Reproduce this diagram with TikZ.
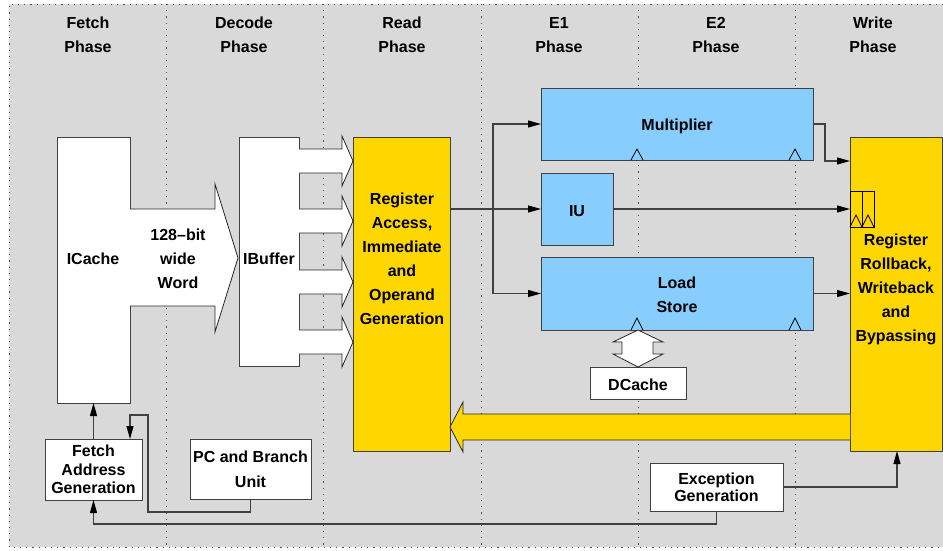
\documentclass[tikz,border=0pt]{standalone}
\usepackage{fontspec}
\setmainfont{Liberation Sans}
\usetikzlibrary{arrows.meta}
\definecolor{bg}{HTML}{D9D9D9}
\definecolor{blu}{HTML}{87CEFF}
\definecolor{yel}{HTML}{FFD700}
\definecolor{ln}{HTML}{404040}
\begin{document}
\begin{tikzpicture}[x=1pt,y=-1pt,
  txt/.style={font=\fontsize{16}{24}\bfseries\selectfont, align=center, inner sep=0pt},
  box/.style={draw=ln, line width=0.9pt, inner sep=0pt, outer sep=0pt, align=center, font=\fontsize{16}{24}\bfseries\selectfont},
  wbox/.style={box, fill=white},
  bbox/.style={box, fill=blu},
  ybox/.style={box, fill=yel},
  conn/.style={draw=ln, line width=1.1pt, -{Triangle[length=13pt,width=7pt,black]}},
  plain/.style={draw=ln, line width=1.1pt},
  divider/.style={draw=black!70, line width=0.9pt, dash pattern=on 1.2pt off 5pt},
  blk/.style={draw=black!85, line width=0.8pt, line join=miter},
  clk/.style={draw=black, line width=0.8pt}
]
\useasboundingbox (0,0) rectangle (943,550);
% background
\fill[bg] (9,4) rectangle (943,547);
\draw[divider] (943,4) -- (9,4) -- (9,547) -- (943,547);
\foreach \x in {166,323,481,638,795} \draw[divider] (\x,4) -- (\x,547);

% headers
\node[txt] (hfetch) at (88,35) {Fetch\\Phase};
\node[txt] (hdecode) at (244,35) {Decode\\Phase};
\node[txt] (hread) at (402,35) {Read\\Phase};
\node[txt] (he1) at (559,35) {E1\\Phase};
\node[txt] (he2) at (716,35) {E2\\Phase};
\node[txt] (hwrite) at (873,35) {Write\\Phase};

% boxes
\node[wbox, minimum width=73, minimum height=266] (icache) at (93.5,270) {};
\node[txt] (icachel) at (93,259) {ICache};
\node[wbox, minimum width=60, minimum height=229] (ibuf) at (269,251.5) {};
\node[txt] (ibufl) at (269,259) {IBuffer};
\node[ybox, minimum width=97, minimum height=314] (read) at (401.5,294) {};
\node[txt] (readl) at (402,259) {Register\\Access,\\Immediate\\and\\Operand\\Generation};
\node[bbox, minimum width=272, minimum height=72] (mult) at (677,124) {};
\node[txt] (multl) at (677,126) {Multiplier};
\node[bbox, minimum width=72, minimum height=72] (iu) at (577,209) {};
\node[txt] (iul) at (577,211) {IU};
\node[bbox, minimum width=272, minimum height=73] (ls) at (677,293.5) {};
\node[txt] (lsl) at (677,295) {Load\\Store};
\node[ybox, minimum width=92, minimum height=314] (write) at (896,294) {};
\node[txt] (writel) at (896,289) {Register\\Rollback,\\Writeback\\and\\Bypassing};
\node[wbox, minimum width=96, minimum height=32] (dcache) at (638,383) {};
\node[txt] (dcachel) at (638,385) {DCache};
\node[wbox, minimum width=133, minimum height=48, font=\fontsize{16}{17}\bfseries\selectfont] (exc) at (716.5,487) {Exception\\Generation};
\node[wbox, minimum width=97, minimum height=61, font=\fontsize{16}{18.5}\bfseries\selectfont] (fag) at (93.5,469.5) {Fetch\\Address\\Generation};
\node[wbox, minimum width=121, minimum height=60, font=\fontsize{16}{25}\bfseries\selectfont] (pc) at (250.5,469) {PC and Branch\\Unit};

% register cells in write box
\draw[clk] (850,191) rectangle (862,227);
\draw[clk] (862,191) rectangle (874,227);
\draw[clk] (850,227) -- (856,215) -- (862,227);
\draw[clk] (862,227) -- (868,215) -- (874,227);

% clock triangles
\foreach \cx in {637,795} {
  \draw[clk] (\cx-6,160) -- (\cx,149) -- (\cx+6,160);
  \draw[clk] (\cx-6,330) -- (\cx,318) -- (\cx+6,330);
}

% 128-bit wide word arrow
\draw[blk, fill=white] (130,209) -- (215,209) -- (215,184) -- (238,258) -- (215,332) -- (215,306) -- (130,306);
\node[txt] (wordl) at (178,259) {128--bit\\wide\\Word};

% four small arrows IBuffer -> Read
\foreach \cy in {161,221,282,342} {
  \draw[blk, fill=white] (299,\cy-12) -- (342,\cy-12) -- (342,\cy-25) -- (353,\cy) -- (342,\cy+25) -- (342,\cy+12) -- (299,\cy+12);
}

% big yellow feedback arrow Write -> Read
\draw[blk, fill=yel] (850,414) -- (463,414) -- (463,402) -- (450,427) -- (463,452) -- (463,440) -- (850,440);

% DCache double arrow
\draw[blk, fill=white] (638,330) -- (663,342) -- (653,342) -- (653,354) -- (663,354) -- (638,367) -- (613,354) -- (622,354) -- (622,342) -- (613,342) -- cycle;

% connectors
\coordinate (br) at (493,209);
\draw[plain] (read.east |- iu.west) -- (br);
\draw[conn] (br) -- (iu.west);
\draw[conn] (br) |- (mult.west);
\draw[conn] (br) |- (ls.west);
\draw[conn] (iu.east) -- (iu.east -| write.west);
\coordinate (mw) at (850,161);
\draw[conn] (mult.east) -- ++(12,0) |- (mw);
\draw[conn] (ls.east) -- (ls.east -| write.west);
\coordinate (ws) at (897,451);
\draw[conn] (exc.east) -| (ws);
\draw[conn] (exc.south) -- ++(0,13) -| (fag.south);
\draw[conn] (fag.north) -- (icache.south);
\coordinate (fagin) at (130,439);
\draw[conn] (pc.south) -- ++(0,13) -| (148,415) -| (fagin);
\end{tikzpicture}
\end{document}
